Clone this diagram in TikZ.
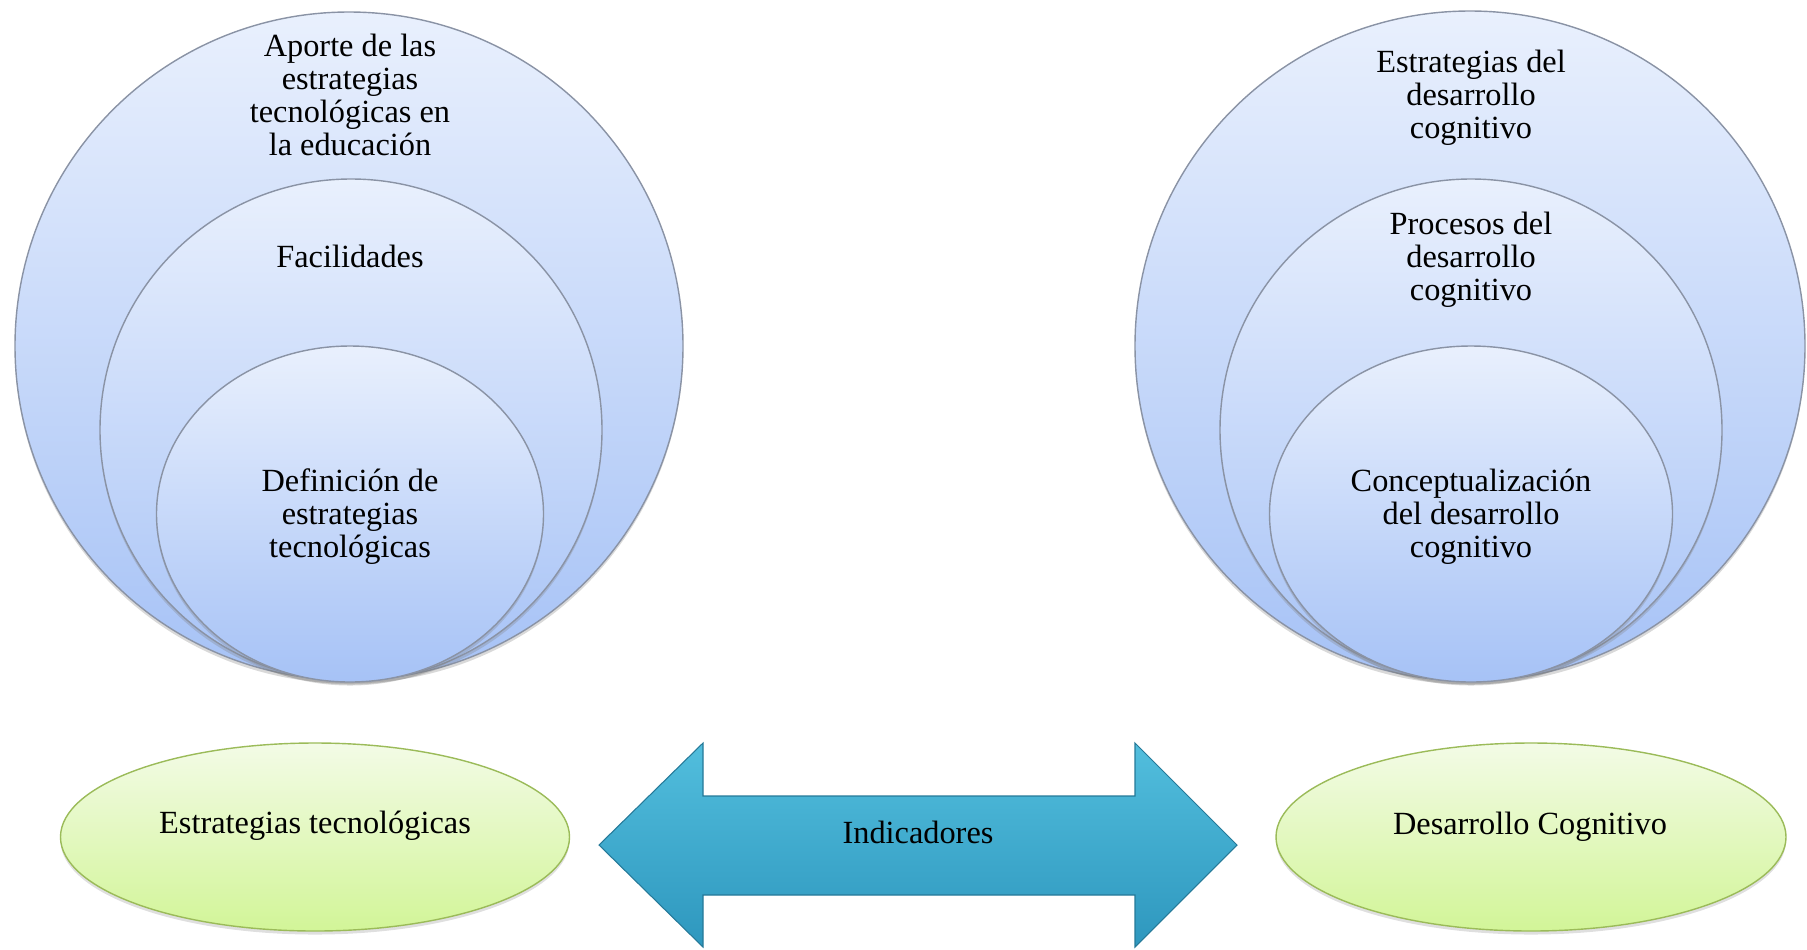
\documentclass[tikz,border=0pt]{standalone}
\usepackage{fontspec}
\setmainfont{Liberation Serif}
\usepackage{xcolor}
\usepackage{tikz}
\usetikzlibrary{shadows}
\usetikzlibrary{positioning}
\usetikzlibrary{shapes.geometric}
\usetikzlibrary{calc}
\definecolor{ringtop}{HTML}{E9F0FD}
\definecolor{ringbot}{HTML}{A6C2F6}
\definecolor{ringline}{HTML}{8A93A5}
\definecolor{basetop}{HTML}{F3FBE6}
\definecolor{basebot}{HTML}{D2F598}
\definecolor{greenline}{HTML}{9BBB59}
\definecolor{arrowtop}{HTML}{52BEDD}
\definecolor{arrowmid}{HTML}{36ADD2}
\definecolor{arrowbot}{HTML}{2E97BE}
\tikzstyle{ring}=[circle,draw=ringline,top color=ringtop,bottom color=ringbot,inner sep=0pt,drop shadow={shadow xshift=0pt,shadow yshift=-1pt,opacity=0.3}]
\tikzstyle{core}=[ellipse,draw=ringline,top color=ringtop,bottom color=ringbot,inner sep=0pt,drop shadow={shadow xshift=0pt,shadow yshift=-1pt,opacity=0.3}]
\tikzstyle{base}=[ellipse,draw=greenline,top color=basetop,bottom color=basebot,inner sep=0pt,drop shadow={shadow xshift=0pt,shadow yshift=-1pt,opacity=0.25}]
\tikzset{txt/.style={align=center,inner sep=0pt,font={\fontsize{9.2pt}{9.4pt}\selectfont}}}

\begin{document}
\begin{tikzpicture}

  \useasboundingbox (0,0) rectangle (18.07,-9.49);

  \def\dx{0};
  \def\dy{0};

  % the two sets of rings
  \foreach \x/\y/\name/\d in {3.49/-3.46/outL/6.68, 14.70/-3.46/outR/6.70, 3.51/-4.30/midL/5.02, 14.71/-4.30/midR/5.02}
          \node[ring, minimum size=\d cm] (\name) at (\x+\dx, \y+\dy) {};

  \foreach \x/\y/\name/\w in {3.50/-5.14/inL/3.87, 14.71/-5.14/inR/4.03}
          \node[core, minimum width=\w cm, minimum height=3.36cm] (\name) at (\x+\dx, \y+\dy) {};

  \node[txt] (tAporte) at (3.50,-0.95) {Aporte de las\\estrategias\\tecnológicas en\\la educación};
  \node[txt] (tFacil) at (3.50,-2.56) {Facilidades};
  \node[txt] (tDefin) at (3.50,-5.17) {Definición de\\estrategias\\tecnológicas};

  \node[txt] (tEstrat) at (14.71,-0.98) {Estrategias del\\desarrollo\\cognitivo};
  \node[txt] (tProc) at (14.71,-2.60) {Procesos del\\desarrollo\\cognitivo};
  \node[txt] (tConcep) at (14.71,-5.17) {Conceptualización\\del desarrollo\\cognitivo};

  % bottom row
  \foreach \x/\y/\name/\w in {3.15/-8.37/baseL/5.09, 15.31/-8.37/baseR/5.10}
          \node[base, minimum width=\w cm, minimum height=1.88cm] (\name) at (\x+\dx, \y+\dy) {};

  \node[txt] (tTecno) at (3.15,-8.255) {Estrategias tecnológicas};
  \node[txt] (tCogni) at (15.30,-8.265) {Desarrollo Cognitivo};

  % double arrow
  \def\ay{-8.45};
  \def\hx{7.03};
  \def\kx{11.35};
  \shade[top color=arrowtop, middle color=arrowmid, bottom color=arrowbot, draw=arrowbot!80!black, line width=0.3pt]
     (5.99,\ay) -- (\hx,-7.43) -- (\hx,-7.96) -- (\kx,-7.96) -- (\kx,-7.43) -- (12.37,\ay)
     -- (\kx,-9.47) -- (\kx,-8.95) -- (\hx,-8.95) -- (\hx,-9.47) -- cycle;

  \node[txt] (tIndic) at (9.18,-8.32) {Indicadores};

\end{tikzpicture}
\end{document}
